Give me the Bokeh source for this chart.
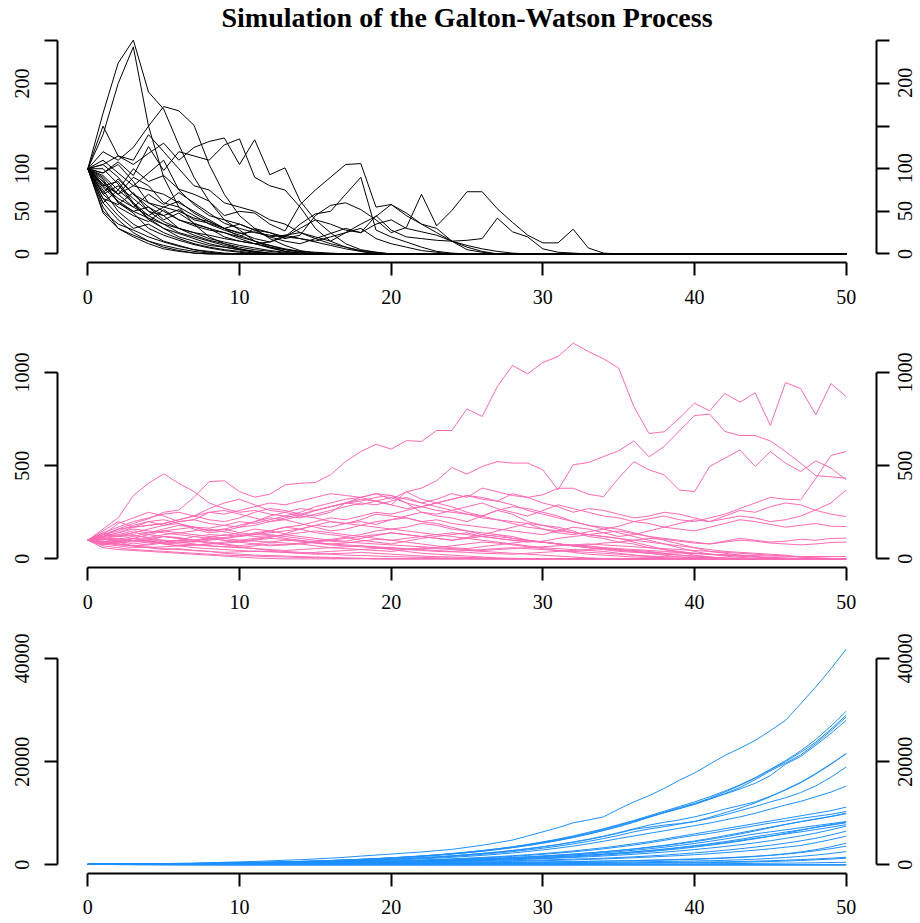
import math
from bokeh.plotting import figure
from bokeh.models import Range1d, LinearAxis, FixedTicker, Title, ColumnDataSource
from bokeh.layouts import column, row
from bokeh.embed import file_html
from bokeh.resources import INLINE
from bokeh.core.properties import value

N_GEN = 51
generations = list(range(N_GEN))

title_text = "Simulation of the Galton-Watson Process"

x_ticks = [0, 10, 20, 30, 40, 50]
x_labels = ["0", "10", "20", "30", "40", "50"]

sub_y_ticks = [0, 50, 100, 150, 200, 250]
sub_y_labels = ["0", "50", "100", "", "200", ""]
crit_y_ticks = [0, 500, 1000]
crit_y_labels = ["0", "500", "1000"]
sup_y_ticks = [0, 20000, 40000]
sup_y_labels = ["0", "20000", "40000"]

sub_color = "#000000"
crit_color = "#FF69B4"
sup_color = "#1E90FF"

# ---- subcritical paths (zero after extinction) ----
sub_paths = [
    [100, 165, 224, 251, 190, 170, 128, 90, 62, 40, 28, 15, 8, 3, 1, 0],
    [100, 140, 200, 243, 150, 90, 55, 35, 20, 12, 6, 2, 0],
    [100, 120, 110, 125, 150, 173, 168, 151, 105, 70, 45, 30, 18, 10, 4, 1, 0],
    [100, 150, 115, 105, 118, 130, 110, 125, 132, 136, 105, 134, 93, 101, 62, 40, 25, 12, 5, 2, 0],
    [100, 95, 108, 92, 126, 98, 120, 115, 110, 128, 135, 90, 80, 75, 55, 30, 15, 8, 3, 0],
    [100, 60, 75, 100, 85, 92, 76, 70, 62, 45, 50, 48, 35, 27, 58, 75, 90, 105, 106, 55, 58, 45, 35, 30, 15, 5, 2, 0],
    [100, 80, 65, 55, 70, 58, 72, 60, 48, 36, 30, 25, 22, 20, 35, 47, 50, 70, 90, 28, 20, 14, 8, 3, 1, 0],
    [100, 70, 55, 45, 38, 52, 40, 33, 28, 25, 20, 30, 25, 18, 22, 45, 57, 60, 52, 40, 25, 31, 70, 33, 51, 73, 73, 53, 37, 22, 13, 13, 29, 7, 1, 0],
    [100, 85, 60, 50, 42, 35, 30, 25, 22, 18, 15, 12, 14, 20, 30, 40, 35, 28, 25, 45, 28, 20, 18, 16, 15, 16, 18, 42, 26, 20, 6, 2, 1, 0],
    [100, 105, 90, 70, 60, 55, 50, 42, 38, 30, 35, 28, 25, 20, 18, 15, 20, 25, 35, 44, 58, 48, 35, 25, 15, 8, 3, 0],
    [100, 75, 50, 35, 25, 15, 10, 5, 2, 0],
    [100, 60, 40, 25, 15, 8, 4, 1, 0],
    [100, 90, 70, 55, 45, 35, 25, 20, 15, 10, 6, 3, 1, 0],
    [100, 80, 85, 60, 40, 30, 20, 15, 10, 8, 5, 2, 0],
    [100, 110, 95, 80, 75, 70, 60, 50, 40, 30, 20, 15, 10, 5, 2, 0],
    [100, 55, 30, 20, 12, 6, 3, 1, 0],
    [100, 65, 45, 30, 35, 25, 18, 12, 8, 5, 3, 1, 0],
    [100, 95, 105, 85, 60, 50, 40, 35, 30, 25, 18, 12, 7, 3, 1, 0],
    [100, 85, 70, 90, 80, 60, 55, 45, 35, 28, 22, 15, 10, 6, 3, 1, 0],
    [100, 70, 80, 65, 50, 45, 30, 25, 18, 14, 10, 7, 4, 2, 0],
    [100, 50, 35, 28, 20, 14, 9, 5, 3, 1, 0],
    [100, 88, 60, 48, 30, 22, 16, 11, 7, 4, 2, 0],
    [100, 105, 115, 110, 140, 120, 100, 80, 75, 60, 55, 50, 40, 35, 25, 18, 12, 8, 4, 2, 0],
    [100, 78, 62, 50, 55, 45, 52, 40, 36, 30, 24, 26, 20, 22, 18, 14, 10, 6, 3, 1, 0],
    [100, 92, 75, 60, 45, 55, 62, 48, 38, 30, 25, 18, 14, 22, 25, 20, 15, 25, 30, 18, 12, 8, 4, 2, 0],
    [100, 65, 58, 72, 50, 38, 30, 22, 16, 12, 8, 5, 3, 1, 0],
    [100, 48, 30, 22, 15, 10, 6, 3, 1, 0],
    [100, 82, 70, 80, 95, 110, 75, 58, 45, 40, 35, 28, 20, 15, 12, 18, 24, 30, 25, 35, 40, 30, 26, 22, 15, 10, 6, 3, 1, 0],
    [100, 100, 82, 58, 42, 30, 24, 18, 12, 8, 5, 3, 1, 0],
    [100, 72, 88, 70, 55, 40, 48, 36, 30, 20, 15, 12, 8, 5, 3, 2, 1, 0],
]

# ---- critical paths ----
crit_paths = [
    [100, 130, 160, 190, 215, 250, 262, 330, 415, 419, 361, 331, 347, 397, 406, 410, 451, 523, 576, 615,
     589, 635, 630, 689, 689, 805, 764, 925, 1038, 993, 1054, 1086, 1158, 1113, 1074, 1024, 818, 673, 682, 755,
     836, 794, 888, 841, 891, 716, 946, 914, 773, 941, 871],
    [100, 160, 220, 340, 406, 456, 406, 361, 300, 270, 250, 260, 240, 230, 250, 280, 300, 320, 330, 310,
     290, 360, 320, 300, 280, 250, 230, 260, 240, 200, 180, 170, 150, 120, 110, 90, 80, 60, 50, 40,
     30, 25, 20, 15, 12, 8, 5, 3, 2, 1, 0],
    [100, 120, 140, 170, 180, 190, 210, 230, 250, 240, 260, 280, 300, 290, 310, 330, 350, 340, 330, 350,
     320, 360, 380, 420, 490, 455, 496, 522, 514, 514, 478, 370, 505, 517, 549, 580, 633, 548, 603, 687,
     769, 777, 684, 662, 662, 633, 576, 514, 447, 440, 433],
    [100, 110, 105, 120, 140, 150, 160, 170, 165, 180, 200, 190, 210, 230, 220, 240, 260, 280, 300, 290,
     310, 330, 300, 320, 350, 330, 380, 360, 340, 330, 344, 379, 379, 347, 334, 433, 522, 478, 451, 370,
     361, 496, 540, 585, 496, 576, 514, 469, 526, 487, 424],
    [100, 90, 110, 95, 100, 120, 110, 100, 115, 130, 120, 140, 150, 135, 160, 180, 170, 190, 200, 185,
     210, 230, 250, 240, 260, 280, 300, 270, 250, 230, 260, 290, 270, 250, 230, 220, 200, 215, 230, 210,
     200, 220, 240, 270, 300, 330, 320, 317, 433, 555, 576],
    [100, 85, 95, 110, 105, 90, 100, 120, 130, 125, 140, 160, 150, 170, 180, 200, 220, 210, 230, 250,
     240, 260, 280, 300, 320, 340, 330, 310, 350, 330, 300, 280, 250, 270, 260, 240, 220, 230, 250, 240,
     220, 200, 215, 230, 220, 200, 210, 230, 263, 300, 370],
    [100, 120, 130, 150, 140, 160, 180, 170, 150, 160, 140, 130, 150, 170, 160, 180, 200, 190, 210, 240,
     230, 220, 200, 210, 190, 180, 170, 160, 150, 140, 130, 150, 170, 160, 140, 120, 130, 150, 170, 190,
     210, 200, 230, 260, 250, 280, 300, 290, 260, 240, 227],
    [100, 105, 95, 80, 90, 100, 85, 95, 110, 100, 90, 105, 115, 130, 120, 110, 100, 95, 110, 125,
     140, 130, 120, 110, 100, 115, 130, 150, 170, 190, 160, 140, 130, 145, 160, 175, 200, 190, 170, 160,
     150, 170, 190, 210, 200, 185, 170, 180, 190, 175, 174],
    [100, 95, 80, 70, 75, 85, 90, 80, 70, 65, 60, 70, 80, 75, 85, 95, 105, 115, 100, 90,
     80, 95, 110, 120, 130, 140, 120, 110, 100, 90, 95, 110, 120, 130, 140, 150, 135, 120, 110, 100,
     90, 80, 95, 110, 100, 90, 95, 105, 100, 110, 111],
    [100, 110, 120, 125, 115, 130, 140, 150, 160, 145, 130, 120, 125, 110, 100, 90, 80, 85, 95, 105,
     100, 90, 80, 70, 60, 55, 65, 75, 85, 95, 90, 80, 70, 75, 85, 90, 100, 110, 105, 95,
     85, 80, 90, 100, 95, 85, 80, 75, 80, 88, 90],
    [100, 80, 70, 60, 65, 55, 50, 45, 40, 35, 38, 42, 40, 35, 30, 35, 40, 45, 50, 55,
     60, 50, 45, 40, 38, 35, 30, 28, 25, 30, 35, 40, 45, 50, 55, 45, 40, 35, 30, 32,
     28, 25, 22, 20, 18, 15, 14, 12, 13, 12, 13],
    [100, 130, 190, 220, 250, 230, 200, 210, 250, 260, 240, 220, 200, 210, 230, 260, 280, 300, 320, 310,
     290, 270, 280, 300, 320, 340, 320, 310, 290, 260, 240, 220, 200, 180, 160, 140, 120, 100, 80, 60,
     40, 25, 15, 8, 3, 1, 0],
    [100, 120, 160, 170, 200, 180, 190, 160, 140, 150, 170, 200, 230, 250, 270, 260, 280, 300, 290, 310,
     330, 300, 280, 260, 250, 240, 230, 210, 190, 170, 160, 150, 140, 130, 120, 110, 90, 70, 50, 35,
     20, 10, 4, 1, 0],
    [100, 150, 200, 170, 180, 190, 210, 230, 270, 300, 320, 290, 260, 250, 230, 220, 200, 190, 180, 170,
     160, 150, 140, 130, 120, 110, 100, 90, 80, 70, 60, 55, 50, 45, 40, 30, 20, 12, 5, 2, 0],
    [100, 140, 120, 130, 110, 100, 95, 90, 100, 110, 120, 130, 140, 150, 160, 140, 130, 120, 130, 150,
     160, 170, 190, 180, 160, 150, 140, 130, 120, 100, 90, 80, 75, 70, 60, 50, 40, 30, 20, 10, 5, 0],
    [100, 90, 80, 70, 60, 65, 70, 75, 80, 90, 100, 110, 120, 130, 140, 150, 140, 130, 120, 110,
     100, 110, 120, 130, 140, 130, 120, 110, 100, 95, 90, 80, 70, 60, 50, 40, 35, 30, 25, 20, 15, 10, 5, 2, 0],
    [100, 70, 60, 50, 45, 40, 35, 30, 25, 20, 18, 15, 12, 10, 8, 6, 4, 3, 2, 1, 0],
    [100, 80, 90, 70, 60, 50, 55, 45, 40, 30, 25, 20, 18, 15, 12, 10, 8, 5, 3, 0],
    [100, 110, 100, 90, 100, 80, 70, 60, 55, 50, 45, 40, 38, 35, 30, 25, 28, 30, 35, 30, 25, 20, 15, 12, 10, 8, 5, 3, 1, 0],
    [100, 120, 140, 160, 150, 140, 130, 120, 110, 100, 90, 80, 70, 75, 80, 70, 60, 55, 50, 45, 40, 50, 60, 55, 50, 45, 40, 35, 30, 25, 20, 15, 10, 5, 2, 0],
    [100, 95, 85, 100, 110, 120, 115, 100, 90, 80, 70, 80, 90, 100, 95, 85, 75, 70, 65, 60, 55, 50, 55, 60, 70, 80, 90, 85, 75, 65, 55, 45, 35, 25, 20, 15, 10, 8, 5, 3, 2, 1, 0],
    [100, 60, 50, 45, 40, 35, 30, 25, 20, 15, 10, 5, 2, 0],
    [100, 130, 150, 180, 200, 210, 190, 170, 150, 160, 180, 200, 220, 210, 190, 170, 150, 160, 180, 200,
     210, 220, 200, 190, 170, 150, 130, 120, 110, 100, 90, 80, 70, 60, 55, 50, 45, 40, 30, 20, 12, 6, 2, 0],
    [100, 90, 100, 110, 130, 150, 140, 130, 120, 110, 100, 95, 90, 85, 80, 90, 100, 110, 120, 130,
     140, 130, 120, 110, 100, 110, 120, 130, 110, 100, 90, 80, 70, 65, 60, 55, 50, 45, 40, 35, 30, 25, 20, 15, 10, 5, 2, 0],
    [100, 105, 110, 100, 90, 85, 80, 75, 70, 65, 60, 55, 50, 45, 50, 55, 60, 65, 70, 60, 50, 40, 30, 25, 20, 15, 10, 5, 3, 1, 0],
    [100, 130, 120, 140, 160, 180, 200, 210, 190, 180, 170, 180, 200, 220, 240, 260, 280, 300, 310, 330,
     340, 320, 300, 280, 260, 240, 220, 210, 200, 190, 180, 160, 140, 130, 120, 110, 100, 90, 80, 70,
     60, 50, 40, 35, 30, 25, 20, 10, 5, 2, 0],
    [100, 85, 75, 70, 80, 90, 100, 95, 85, 75, 65, 55, 45, 40, 35, 30, 25, 20, 18, 15, 12, 10, 8, 6, 4, 2, 0],
    [100, 115, 125, 140, 130, 120, 110, 100, 105, 115, 125, 135, 130, 120, 110, 100, 95, 90, 85, 80,
     75, 70, 65, 60, 55, 50, 45, 50, 55, 60, 65, 70, 75, 80, 75, 70, 65, 60, 55, 50,
     45, 40, 35, 30, 25, 20, 15, 10, 5, 2, 0],
    [100, 75, 90, 110, 95, 80, 70, 75, 80, 85, 90, 100, 110, 105, 95, 85, 80, 75, 70, 65,
     60, 55, 50, 45, 40, 45, 50, 55, 60, 55, 50, 45, 40, 35, 30, 25, 20, 15, 12, 10, 8, 6, 4, 2, 1, 0],
    [100, 140, 170, 200, 220, 240, 250, 230, 210, 200, 220, 250, 270, 260, 240, 230, 250, 300, 330, 350,
     340, 300, 250, 230, 220, 200, 230, 260, 280, 270, 250, 230, 200, 180, 170, 160, 140, 120, 100, 80,
     60, 40, 30, 20, 10, 5, 2, 0],
]

# ---- supercritical paths ----
sup_paths = [
    [100, 115, 150, 180, 220, 255, 300, 350, 420, 500, 580, 660, 780, 900, 1000, 1150, 1300, 1480, 1700, 1900,
     2100, 2300, 2500, 2750, 3000, 3400, 3800, 4300, 4800, 5600, 6400, 7200, 8150, 8700, 9300, 10800, 12200, 13400, 14800, 16400,
     17800, 19500, 21200, 22600, 24100, 26000, 28000, 31200, 34500, 38000, 41800],
    [100, 118, 135, 160, 185, 210, 240, 280, 320, 370, 420, 470, 530, 600, 680, 760, 860, 970, 1090, 1230,
     1380, 1550, 1740, 1950, 2200, 2480, 2780, 3120, 3500, 3950, 4450, 5000, 5600, 6300, 7000, 7800, 8600, 9500, 10400, 11300,
     12200, 13200, 14300, 15500, 16900, 18500, 20200, 22100, 24300, 26900, 29760],
    [100, 112, 128, 150, 175, 205, 235, 265, 300, 345, 395, 450, 510, 580, 650, 730, 830, 940, 1060, 1200,
     1350, 1520, 1710, 1930, 2170, 2450, 2760, 3100, 3480, 3900, 4380, 4900, 5480, 6150, 6900, 7700, 8500, 9300, 10100, 10900,
     11800, 12900, 14100, 15400, 16800, 18400, 20000, 21800, 23800, 26300, 29000],
    [100, 105, 125, 145, 170, 195, 225, 260, 300, 340, 390, 440, 500, 560, 630, 710, 800, 900, 1020, 1150,
     1300, 1460, 1640, 1850, 2080, 2340, 2630, 2960, 3330, 3740, 4200, 4720, 5300, 5950, 6650, 7400, 8250, 9200, 10100, 10900,
     11700, 12700, 13800, 15000, 16500, 18200, 19700, 21300, 23500, 26000, 28660],
    [100, 120, 145, 165, 190, 215, 240, 275, 315, 360, 410, 465, 525, 590, 665, 745, 840, 945, 1060, 1190,
     1340, 1500, 1680, 1890, 2120, 2380, 2670, 3000, 3370, 3780, 4250, 4760, 5340, 5980, 6700, 7500, 8400, 9300, 10200, 11100,
     11900, 12800, 13700, 14700, 15800, 17300, 19500, 21000, 23200, 25500, 28000],
    [100, 110, 125, 140, 160, 180, 205, 230, 260, 295, 335, 380, 430, 485, 545, 615, 690, 780, 880, 990,
     1110, 1250, 1400, 1570, 1760, 1980, 2220, 2490, 2800, 3140, 3520, 3950, 4430, 4970, 5570, 6240, 6990, 7700, 8250, 8700,
     9300, 10000, 10800, 11500, 12200, 13300, 14500, 15900, 17600, 19500, 21550],
    [100, 108, 120, 138, 155, 175, 200, 228, 258, 290, 330, 372, 420, 475, 535, 600, 680, 765, 860, 970,
     1090, 1230, 1380, 1550, 1740, 1960, 2200, 2470, 2770, 3100, 3480, 3900, 4380, 4900, 5490, 6150, 6880, 7300, 7700, 8000,
     8400, 9200, 10100, 11000, 12000, 13200, 14600, 16000, 17700, 19600, 21550],
    [100, 102, 115, 130, 148, 168, 190, 215, 245, 278, 315, 355, 400, 450, 505, 570, 640, 720, 810, 910,
     1020, 1150, 1290, 1450, 1620, 1820, 2040, 2290, 2570, 2880, 3230, 3620, 4060, 4550, 5100, 5710, 6400, 6950, 7400, 7900,
     8400, 9000, 9700, 10500, 11300, 12200, 13000, 14000, 15300, 17000, 18950],
    [100, 98, 110, 125, 140, 158, 178, 200, 225, 255, 288, 325, 365, 410, 460, 515, 580, 650, 730, 820,
     920, 1030, 1160, 1300, 1460, 1640, 1840, 2060, 2310, 2590, 2900, 3250, 3640, 4080, 4570, 5100, 5600, 6100, 6600, 7100,
     7600, 8100, 8700, 9300, 10000, 10800, 11600, 12300, 13200, 14100, 15270],
    [100, 108, 118, 130, 145, 160, 178, 198, 220, 245, 272, 302, 335, 372, 413, 458, 508, 564, 626, 695,
     770, 855, 950, 1050, 1170, 1300, 1440, 1600, 1780, 1970, 2190, 2430, 2700, 3000, 3320, 3690, 4100, 4500, 5000, 5500,
     6000, 6500, 7000, 7500, 8000, 8500, 9000, 9500, 10000, 10500, 11190],
    [100, 95, 105, 115, 128, 142, 158, 176, 196, 218, 242, 270, 300, 334, 372, 414, 460, 512, 570, 634,
     705, 784, 872, 970, 1080, 1200, 1335, 1485, 1650, 1835, 2040, 2270, 2520, 2800, 3110, 3460, 3840, 4270, 4740, 5260,
     5700, 6100, 6600, 7100, 7600, 8100, 8500, 9000, 9400, 9800, 10350],
    [100, 112, 120, 133, 145, 160, 175, 192, 212, 232, 255, 282, 310, 340, 375, 412, 455, 500, 550, 605,
     665, 732, 805, 885, 975, 1070, 1180, 1300, 1430, 1570, 1730, 1900, 2090, 2300, 2530, 2780, 3060, 3370, 3700, 4080,
     4490, 4940, 5430, 5980, 6580, 7200, 7800, 8400, 8900, 9400, 10030],
    [100, 104, 112, 122, 134, 147, 162, 178, 196, 216, 238, 262, 288, 317, 349, 384, 422, 464, 510, 561,
     617, 679, 747, 822, 904, 994, 1090, 1200, 1320, 1450, 1600, 1760, 1930, 2120, 2340, 2570, 2830, 3110, 3420, 3770,
     4140, 4560, 5010, 5510, 6000, 6400, 6800, 7200, 7600, 8000, 8400],
    [100, 96, 102, 110, 120, 132, 145, 160, 176, 194, 213, 234, 258, 284, 312, 343, 378, 415, 457, 503,
     553, 608, 669, 736, 810, 891, 980, 1080, 1190, 1300, 1430, 1580, 1730, 1910, 2100, 2310, 2540, 2790, 3070, 3380,
     3720, 4090, 4500, 4950, 5450, 5900, 6350, 6800, 7250, 7700, 8150],
    [100, 110, 116, 124, 134, 146, 160, 175, 192, 210, 230, 252, 276, 302, 331, 363, 398, 436, 478, 524,
     574, 629, 690, 756, 829, 909, 996, 1090, 1200, 1310, 1440, 1580, 1730, 1890, 2070, 2270, 2490, 2730, 2990, 3280,
     3590, 3940, 4310, 4720, 5170, 5570, 5980, 6400, 6850, 7300, 7800],
    [100, 92, 98, 106, 115, 125, 136, 148, 162, 177, 194, 212, 232, 254, 278, 304, 333, 365, 400, 438,
     480, 526, 576, 631, 691, 757, 829, 908, 995, 1090, 1190, 1310, 1430, 1570, 1720, 1880, 2060, 2260, 2470, 2710,
     2970, 3250, 3560, 3900, 4270, 4680, 5130, 5620, 6160, 6800, 7500],
    [100, 106, 113, 121, 130, 140, 151, 163, 176, 190, 205, 221, 239, 258, 279, 301, 325, 351, 379, 409,
     442, 477, 515, 556, 601, 649, 701, 757, 818, 883, 954, 1030, 1110, 1200, 1300, 1420, 1560, 1720, 1900, 2100,
     2320, 2560, 2830, 3120, 3440, 3800, 4200, 4650, 5150, 5800, 6530],
    [100, 88, 94, 100, 107, 115, 124, 133, 143, 154, 166, 179, 193, 208, 224, 242, 261, 282, 304, 328,
     354, 382, 412, 445, 480, 520, 570, 620, 680, 740, 810, 880, 960, 1050, 1150, 1260, 1380, 1510, 1650, 1800,
     1970, 2160, 2370, 2600, 2850, 3120, 3420, 3750, 4300, 4900, 5560],
    [100, 97, 100, 104, 109, 114, 120, 126, 133, 140, 148, 157, 166, 176, 187, 199, 212, 226, 241, 257,
     275, 294, 315, 337, 361, 387, 415, 445, 478, 513, 551, 592, 636, 684, 736, 792, 852, 917, 988, 1065,
     1150, 1250, 1370, 1510, 1680, 1880, 2150, 2500, 2950, 3500, 4200],
    [100, 104, 108, 113, 118, 124, 130, 137, 144, 152, 160, 169, 179, 189, 200, 212, 225, 239, 254, 270,
     287, 305, 325, 346, 369, 393, 419, 447, 477, 509, 544, 581, 621, 664, 710, 760, 813, 870, 932, 1000,
     1080, 1180, 1300, 1450, 1620, 1830, 2080, 2380, 2730, 3140, 3620],
    [100, 90, 92, 95, 98, 102, 106, 110, 115, 120, 126, 132, 139, 146, 154, 162, 171, 181, 191, 202,
     214, 227, 241, 256, 272, 289, 307, 327, 348, 371, 395, 421, 449, 479, 511, 545, 582, 621, 663, 708,
     756, 808, 880, 980, 1100, 1250, 1430, 1650, 1900, 2200, 2580],
    [100, 95, 96, 98, 100, 102, 105, 108, 111, 115, 119, 123, 128, 133, 138, 144, 150, 157, 164, 171,
     179, 188, 197, 207, 218, 229, 241, 254, 268, 283, 299, 316, 334, 353, 374, 396, 420, 445, 472, 501,
     532, 565, 600, 650, 720, 800, 900, 1020, 1150, 1300, 1480],
    [100, 102, 100, 97, 95, 93, 92, 91, 91, 91, 92, 93, 95, 97, 100, 103, 107, 111, 116, 121,
     127, 133, 140, 147, 155, 164, 173, 183, 194, 206, 219, 233, 248, 264, 281, 300, 320, 342, 365, 390,
     417, 446, 478, 520, 580, 650, 740, 850, 980, 1120, 1290],
    [100, 85, 75, 68, 62, 57, 53, 50, 48, 46, 45, 44, 44, 44, 45, 46, 47, 49, 51, 53,
     56, 59, 62, 66, 70, 74, 79, 84, 90, 96, 103, 110, 118, 127, 136, 146, 157, 169, 182, 196,
     211, 227, 245, 265, 287, 311, 337, 366, 400, 450, 510],
    [100, 80, 65, 50, 40, 30, 22, 15, 10, 6, 3, 1, 0],
    [100, 70, 50, 35, 20, 12, 6, 2, 0],
    [100, 115, 130, 145, 160, 175, 190, 205, 222, 240, 260, 282, 305, 330, 357, 386, 417, 451, 487, 526,
     568, 613, 662, 715, 772, 834, 901, 973, 1050, 1160, 1280, 1410, 1560, 1720, 1900, 2100, 2320, 2560, 2830, 3120,
     3450, 3800, 4180, 4600, 5050, 5550, 6100, 6700, 7300, 7800, 8300],
    [100, 103, 108, 116, 126, 138, 152, 168, 186, 206, 228, 252, 279, 309, 342, 378, 418, 462, 511, 565,
     624, 690, 763, 843, 932, 1030, 1140, 1260, 1390, 1540, 1700, 1880, 2080, 2300, 2540, 2810, 3100, 3430, 3790, 4190,
     4630, 5120, 5660, 6200, 6750, 7300, 7850, 8350, 8850, 9350, 9900],
    [100, 90, 80, 70, 55, 45, 40, 30, 25, 20, 15, 10, 8, 5, 3, 1, 0],
]


def after_extinction(path):
    """Paths stay at zero once extinct."""
    return list(path) + [0] * (N_GEN - len(path))


FONT = "Liberation Serif"
TOTAL_W = 920
STRIP_W = 30                 # narrow strip holding the right-hand tick labels
MAIN_W = TOTAL_W - STRIP_W
BORDER_L = 57
BORDER_R = MAIN_W - 876      # frame right edge at x = 876
TICK_OUT = 13
STRIP_LABEL_X = 7.5          # label box spans this .. this + line height, inside the strip


def style_axis(ax):
    ax.axis_line_width = 2
    ax.axis_line_color = "black"
    ax.major_tick_line_width = 2
    ax.major_tick_line_color = "black"
    ax.major_tick_in = 0
    ax.major_tick_out = TICK_OUT
    ax.minor_tick_line_color = None
    ax.major_label_text_font = FONT
    ax.major_label_text_font_size = "20px"
    ax.major_label_text_color = "black"


def make_panel(paths, color, y_ticks, y_labels, height, top, bottom, x_standoff, title=None):
    paths = [after_extinction(p) for p in paths]
    ymax = max(max(p) for p in paths)
    pad = 0.04 * ymax
    y_range = Range1d(-pad, ymax + pad)
    p = figure(width=MAIN_W, height=height,
               x_range=Range1d(-2, 52), y_range=y_range,
               x_axis_type=None, y_axis_type=None,
               output_backend="svg", toolbar_location=None,
               min_border_left=BORDER_L, min_border_right=BORDER_R,
               min_border_top=top, min_border_bottom=bottom)
    p.outline_line_color = None
    p.background_fill_color = "white"
    p.border_fill_color = "white"

    src = ColumnDataSource(dict(xs=[generations] * len(paths), ys=paths))
    p.multi_line("xs", "ys", source=src, line_color=color, line_width=1)

    xaxis = LinearAxis(ticker=FixedTicker(ticks=x_ticks), bounds=(x_ticks[0], x_ticks[-1]),
                       major_label_overrides={t: l for t, l in zip(x_ticks, x_labels)})
    style_axis(xaxis)
    xaxis.major_label_standoff = x_standoff
    p.add_layout(xaxis, "below")

    overrides = {t: l for t, l in zip(y_ticks, y_labels)}
    yaxis = LinearAxis(ticker=FixedTicker(ticks=y_ticks), bounds=(y_ticks[0], y_ticks[-1]),
                       major_label_overrides=overrides, major_label_orientation="vertical")
    style_axis(yaxis)
    yaxis.major_label_standoff = 15
    p.add_layout(yaxis, "left")

    # right axis: line and ticks only; its labels are drawn in the strip next to it
    raxis = LinearAxis(ticker=FixedTicker(ticks=y_ticks), bounds=(y_ticks[0], y_ticks[-1]),
                       major_label_overrides={t: "" for t in y_ticks})
    style_axis(raxis)
    raxis.major_label_text_font_size = "0px"
    raxis.major_label_standoff = 0
    p.add_layout(raxis, "right")

    if title is not None:
        t = Title(text=title, align="center", text_font=FONT, text_font_style="bold",
                  text_font_size="28px", text_color="black", standoff=-2)
        p.add_layout(t, "above")

    # strip with the right-hand labels, using the panel's y scale over the full strip height
    frame_h = height - top - bottom
    px_per_unit = frame_h / (y_range.end - y_range.start)
    strip_range = Range1d(y_range.start - bottom / px_per_unit, y_range.end + top / px_per_unit)
    s = figure(width=STRIP_W, height=height, x_range=Range1d(0, STRIP_W), y_range=strip_range,
               x_axis_type=None, y_axis_type=None, output_backend="svg", toolbar_location=None,
               min_border_left=0, min_border_right=0, min_border_top=0, min_border_bottom=0)
    s.outline_line_color = None
    s.background_fill_color = "white"
    s.border_fill_color = "white"
    keep = [(t, l) for t, l in zip(y_ticks, y_labels) if l]
    lsrc = ColumnDataSource(dict(y=[t for t, _ in keep], text=[l for _, l in keep]))
    s.text(x=STRIP_LABEL_X, y="y", text="text", source=lsrc, angle=math.pi / 2,
           text_align="center", text_baseline="top",
           text_font=value(FONT), text_font_size="20px", text_color="black")
    return p, s


p1, s1 = make_panel(sub_paths, sub_color, sub_y_ticks, sub_y_labels, 310, 30, 48, 14, title=title_text)
p2, s2 = make_panel(crit_paths, crit_color, crit_y_ticks, crit_y_labels, 307, 24, 50, 14)
p3, s3 = make_panel(sup_paths, sup_color, sup_y_ticks, sup_y_labels, 306, 23, 50, 13)

layout = row(column(p1, p2, p3, spacing=0), column(s1, s2, s3, spacing=0), spacing=0)
open("out.html", "w").write(file_html(layout, INLINE, title="Galton-Watson"))
